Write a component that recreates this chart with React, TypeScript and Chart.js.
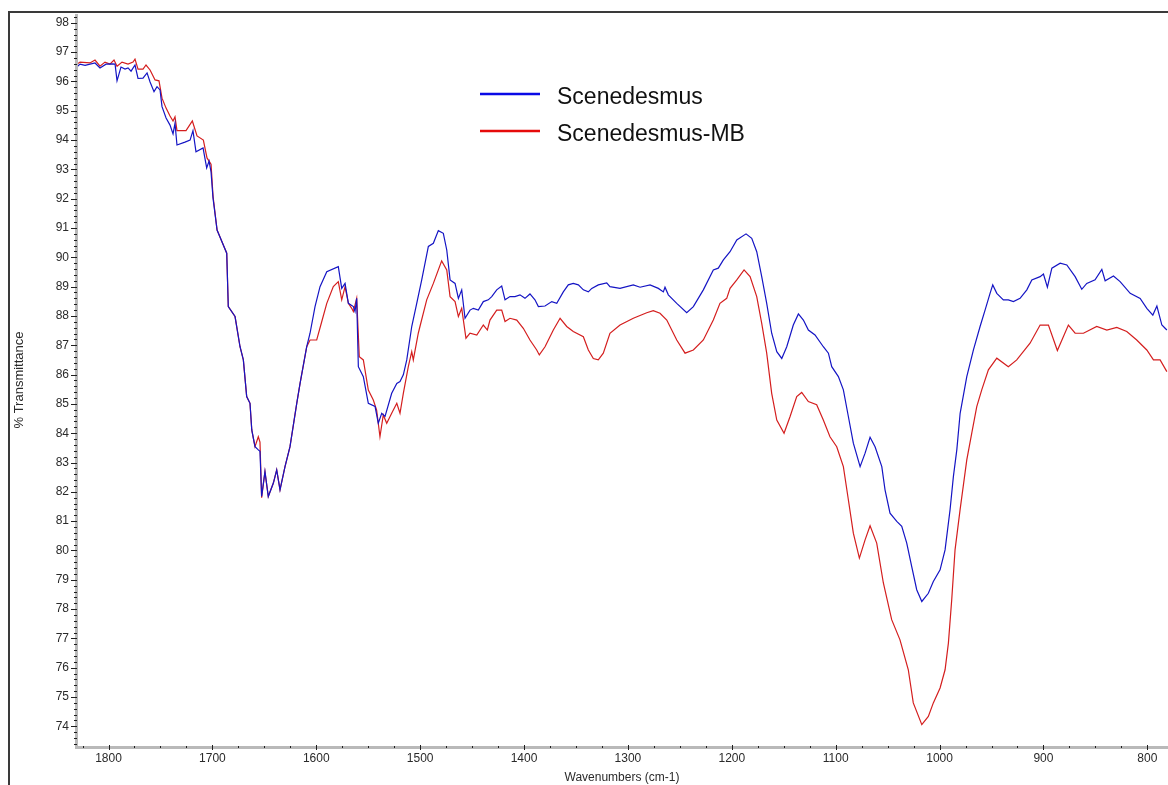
import React, { useEffect, useRef } from "react";
import { Chart, registerables } from "chart.js";

Chart.register(...registerables);

// FTIR spectra: wavenumber (cm-1) and % transmittance for each sample
const BLUE_WN = [
  1830.3, 1827.4, 1822.6, 1813.0, 1808.2, 1802.4, 1796.6, 1793.7, 1791.8, 1788.0,
  1784.1, 1781.2, 1778.3, 1774.5, 1771.6, 1766.8, 1762.9, 1760.0, 1756.2, 1753.3,
  1750.4, 1748.5, 1744.6, 1740.8, 1737.9, 1736.0, 1734.1, 1726.4, 1721.5, 1718.7,
  1715.8, 1709.0, 1705.5, 1703.2, 1701.3, 1699.4, 1695.5, 1692.7, 1686.2, 1684.7,
  1678.2, 1673.4, 1670.2, 1667.0, 1663.8, 1662.1, 1659.0, 1655.8, 1654.2, 1652.6,
  1649.4, 1646.2, 1641.3, 1638.1, 1634.9, 1630.1, 1625.3, 1618.8, 1615.6, 1609.2,
  1606.0, 1601.2, 1596.4, 1589.9, 1578.8, 1575.5, 1572.3, 1569.1, 1564.3, 1562.7,
  1561.1, 1559.5, 1554.7, 1549.9, 1543.4, 1540.3, 1537.0, 1533.8, 1527.4, 1522.5,
  1519.4, 1516.2, 1512.9, 1508.1, 1503.3, 1498.5, 1492.1, 1487.3, 1482.5, 1477.7,
  1474.4, 1471.2, 1466.4, 1463.2, 1460.0, 1456.8, 1452.0, 1448.8, 1444.0, 1439.2,
  1434.4, 1431.1, 1426.3, 1421.5, 1418.3, 1413.5, 1408.7, 1403.9, 1399.1, 1394.3,
  1389.5, 1386.2, 1379.8, 1373.3, 1368.5, 1362.2, 1357.4, 1352.6, 1347.7, 1342.9,
  1338.1, 1334.8, 1328.5, 1320.4, 1317.3, 1307.6, 1294.8, 1288.3, 1278.7, 1270.7,
  1265.9, 1264.3, 1261.1, 1253.0, 1243.4, 1237.0, 1227.4, 1217.8, 1213.0, 1208.1,
  1201.7, 1195.2, 1186.3, 1180.8, 1176.0, 1171.2, 1166.4, 1161.6, 1156.7, 1151.9,
  1147.1, 1140.8, 1135.9, 1131.1, 1126.3, 1119.9, 1111.9, 1107.0, 1103.8, 1097.4,
  1092.6, 1087.8, 1083.0, 1076.5, 1071.7, 1066.9, 1062.1, 1055.6, 1052.5, 1047.7,
  1041.2, 1036.4, 1031.6, 1026.8, 1022.0, 1017.1, 1010.8, 1006.0, 999.5, 994.7,
  989.9, 986.7, 983.4, 980.2, 973.8, 967.4, 961.0, 956.2, 951.4, 948.8,
  944.9, 938.6, 933.8, 928.9, 922.5, 916.0, 911.2, 903.2, 900.0, 896.2,
  891.9, 883.9, 877.5, 869.5, 863.1, 858.3, 850.3, 843.8, 840.6, 832.6,
  826.2, 816.5, 806.9, 800.5, 794.7, 790.8, 786.0, 781.2,
];
const BLUE_T = [
  96.50, 96.59, 96.55, 96.63, 96.46, 96.59, 96.60, 96.59, 96.02, 96.49,
  96.42, 96.46, 96.35, 96.56, 96.10, 96.11, 96.29, 95.98, 95.65, 95.82,
  95.71, 95.14, 94.75, 94.51, 94.21, 94.57, 93.83, 93.93, 94.00, 94.32,
  93.60, 93.73, 93.05, 93.28, 92.91, 92.02, 90.93, 90.69, 90.14, 88.32,
  87.98, 86.95, 86.50, 85.25, 85.02, 84.11, 83.54, 83.43, 83.38, 81.84,
  82.69, 81.84, 82.30, 82.75, 82.07, 82.86, 83.54, 85.02, 85.70, 86.95,
  87.41, 88.32, 89.00, 89.51, 89.68, 88.94, 89.11, 88.43, 88.32, 88.15,
  88.60, 86.27, 85.93, 85.02, 84.91, 84.34, 84.68, 84.57, 85.36, 85.70,
  85.76, 85.99, 86.50, 87.64, 88.43, 89.23, 90.37, 90.48, 90.91, 90.82,
  90.25, 89.23, 89.11, 88.60, 88.89, 87.92, 88.20, 88.26, 88.20, 88.49,
  88.55, 88.66, 88.89, 89.02, 88.55, 88.66, 88.66, 88.72, 88.60, 88.75,
  88.55, 88.32, 88.34, 88.49, 88.43, 88.82, 89.06, 89.11, 89.06, 88.89,
  88.82, 88.94, 89.06, 89.13, 89.00, 88.94, 89.06, 88.98, 89.06, 88.94,
  88.82, 88.98, 88.72, 88.43, 88.11, 88.32, 88.89, 89.57, 89.63, 89.91,
  90.19, 90.59, 90.80, 90.65, 90.19, 89.34, 88.43, 87.41, 86.78, 86.55,
  86.95, 87.69, 88.07, 87.86, 87.52, 87.35, 86.95, 86.73, 86.27, 85.93,
  85.48, 84.57, 83.66, 82.86, 83.32, 83.86, 83.54, 82.86, 82.07, 81.27,
  80.99, 80.82, 80.25, 79.45, 78.66, 78.26, 78.54, 78.94, 79.34, 80.02,
  81.39, 82.52, 83.43, 84.68, 85.93, 86.84, 87.64, 88.20, 88.77, 89.06,
  88.77, 88.55, 88.55, 88.49, 88.60, 88.89, 89.23, 89.34, 89.43, 88.98,
  89.63, 89.80, 89.74, 89.34, 88.91, 89.11, 89.23, 89.59, 89.20, 89.36,
  89.17, 88.77, 88.60, 88.26, 88.03, 88.34, 87.69, 87.52,
];

const RED_WN = [
  1830.3, 1827.4, 1817.8, 1813.0, 1808.2, 1803.4, 1798.6, 1794.7, 1791.8, 1787.0,
  1781.2, 1776.4, 1774.5, 1771.6, 1766.8, 1763.9, 1760.0, 1755.2, 1751.4, 1748.5,
  1744.6, 1740.8, 1737.9, 1736.0, 1734.1, 1725.4, 1719.3, 1714.8, 1708.7, 1705.2,
  1703.2, 1701.3, 1699.4, 1695.5, 1692.7, 1686.2, 1684.7, 1678.2, 1673.4, 1670.2,
  1667.0, 1663.8, 1662.1, 1659.0, 1655.8, 1654.2, 1652.6, 1649.4, 1646.2, 1641.3,
  1638.1, 1634.9, 1630.1, 1625.3, 1618.8, 1615.6, 1609.2, 1606.0, 1599.6, 1594.7,
  1589.9, 1583.6, 1578.8, 1575.5, 1572.3, 1569.1, 1565.9, 1564.3, 1561.1, 1558.6,
  1554.7, 1549.9, 1545.1, 1541.9, 1538.7, 1535.5, 1532.2, 1527.4, 1522.5, 1519.4,
  1516.2, 1511.4, 1508.1, 1506.6, 1501.8, 1500.2, 1493.7, 1487.3, 1479.3, 1474.4,
  1471.2, 1466.4, 1463.2, 1460.0, 1455.9, 1452.0, 1445.5, 1439.2, 1435.3, 1432.8,
  1426.3, 1421.5, 1418.3, 1413.5, 1407.0, 1400.7, 1394.3, 1387.8, 1385.3, 1379.8,
  1371.8, 1365.3, 1358.9, 1352.6, 1342.9, 1338.1, 1333.3, 1328.5, 1323.7, 1317.3,
  1307.6, 1294.8, 1281.9, 1275.6, 1269.1, 1262.6, 1253.0, 1245.0, 1237.0, 1227.4,
  1217.8, 1211.4, 1204.9, 1201.7, 1195.2, 1188.2, 1182.4, 1176.0, 1171.2, 1166.4,
  1161.6, 1156.7, 1149.7, 1143.9, 1137.5, 1132.7, 1126.3, 1118.3, 1111.9, 1105.5,
  1099.0, 1092.6, 1087.8, 1083.0, 1077.2, 1071.7, 1066.9, 1060.5, 1054.1, 1046.1,
  1038.1, 1030.1, 1025.3, 1017.1, 1010.8, 1006.0, 999.5, 994.7, 991.5, 988.3,
  985.1, 980.2, 973.8, 969.0, 964.2, 959.4, 953.0, 944.9, 933.8, 925.7,
  912.9, 903.2, 895.2, 886.6, 876.0, 869.5, 861.5, 848.7, 839.0, 829.4,
  819.8, 810.2, 800.5, 794.1, 787.7, 781.2,
];
const RED_T = [
  96.59, 96.66, 96.63, 96.73, 96.52, 96.66, 96.59, 96.73, 96.52, 96.66,
  96.59, 96.66, 96.76, 96.42, 96.42, 96.56, 96.39, 96.05, 96.02, 95.43,
  95.09, 94.82, 94.65, 94.79, 94.32, 94.32, 94.65, 94.14, 94.00, 93.39,
  93.28, 93.18, 92.09, 90.93, 90.69, 90.14, 88.32, 87.98, 86.95, 86.50,
  85.25, 85.02, 84.11, 83.54, 83.88, 83.70, 81.80, 82.69, 81.84, 82.30,
  82.75, 82.07, 82.86, 83.54, 85.02, 85.70, 86.95, 87.18, 87.18, 87.81,
  88.43, 89.00, 89.17, 88.55, 89.00, 88.43, 88.26, 88.15, 88.60, 86.61,
  86.50, 85.47, 85.13, 84.79, 83.88, 84.62, 84.34, 84.68, 85.02, 84.68,
  85.36, 86.27, 86.78, 86.50, 87.41, 87.64, 88.55, 89.11, 89.88, 89.57,
  88.66, 88.49, 87.98, 88.26, 87.24, 87.41, 87.35, 87.69, 87.52, 87.86,
  88.20, 88.20, 87.81, 87.92, 87.86, 87.58, 87.18, 86.84, 86.67, 86.95,
  87.52, 87.92, 87.64, 87.47, 87.29, 86.84, 86.55, 86.50, 86.73, 87.41,
  87.69, 87.92, 88.11, 88.18, 88.09, 87.86, 87.18, 86.73, 86.84, 87.18,
  87.86, 88.43, 88.60, 88.94, 89.23, 89.57, 89.34, 88.66, 87.75, 86.73,
  85.36, 84.45, 84.00, 84.57, 85.25, 85.39, 85.08, 84.97, 84.45, 83.88,
  83.54, 82.86, 81.73, 80.59, 79.74, 80.36, 80.84, 80.25, 78.89, 77.64,
  76.95, 75.93, 74.80, 74.06, 74.34, 74.80, 75.31, 75.93, 76.84, 78.32,
  80.02, 81.40, 83.09, 84.00, 84.91, 85.48, 86.16, 86.56, 86.27, 86.50,
  87.07, 87.69, 87.69, 86.82, 87.69, 87.41, 87.41, 87.64, 87.52, 87.61,
  87.47, 87.18, 86.84, 86.50, 86.50, 86.10,
];

const SERIES_NAMES = ["Scenedesmus", "Scenedesmus-MB"];
const LINE_COLORS = ["#1414c4", "#d41e1e"];
const LEGEND_COLORS = ["#0a0ae6", "#e60a0a"];

const X_TICKS = [1800, 1700, 1600, 1500, 1400, 1300, 1200, 1100, 1000, 900, 800];
const Y_TICKS = [
  74, 75, 76, 77, 78, 79, 80, 81, 82, 83, 84, 85, 86,
  87, 88, 89, 90, 91, 92, 93, 94, 95, 96, 97, 98,
];
const X_RANGE = [780.1, 1831.3];
const Y_RANGE = [73.33, 98.3];

const FONT = "'Liberation Sans', Arial, Helvetica, sans-serif";
const TEXT_COLOR = "#2a2a2a";

// Instrument-style frame, ruler axes with minor ticks, and the in-plot legend
const spectrumDecor = {
  id: "spectrumDecor",
  beforeDraw(chart: any) {
    const ctx = chart.ctx;
    ctx.save();
    ctx.strokeStyle = "#3a3a3a";
    ctx.lineWidth = 2;
    ctx.beginPath();
    ctx.moveTo(9, chart.height);
    ctx.lineTo(9, 12);
    ctx.lineTo(chart.width, 12);
    ctx.stroke();
    ctx.restore();
  },
  afterDatasetsDraw(chart: any) {
    const ctx = chart.ctx;
    const { left, right, top, bottom } = chart.chartArea;
    const xs = chart.scales.x;
    const ys = chart.scales.y;
    ctx.save();
    // axis bars
    ctx.fillStyle = "#b9b9b9";
    ctx.fillRect(left - 1, top, 3, bottom - top + 2);
    ctx.fillRect(left - 1, bottom, right - left + 1, 3);
    ctx.fillStyle = "#1e1e1e";
    // y minor / major ticks
    for (let i = Math.ceil(Y_RANGE[0] * 5); i <= Math.floor(Y_RANGE[1] * 5); i++) {
      const py = Math.round(ys.getPixelForValue(i / 5));
      const major = i % 5 === 0;
      if (major) ctx.fillRect(left - 5, py, 6, 1);
      else ctx.fillRect(left - 2, py, 3, 1);
    }
    // x minor / major ticks
    for (let k = Math.ceil(X_RANGE[0] / 25); k <= Math.floor(X_RANGE[1] / 25); k++) {
      const px = Math.round(xs.getPixelForValue(k * 25));
      const major = k % 4 === 0;
      if (major) ctx.fillRect(px, bottom - 1, 1, 5);
      else ctx.fillRect(px, bottom, 1, 2);
    }
    ctx.restore();
  },
  afterDraw(chart: any) {
    const ctx = chart.ctx;
    ctx.save();
    const rows = [94, 131];
    SERIES_NAMES.forEach((name, i) => {
      const y = rows[i];
      ctx.strokeStyle = LEGEND_COLORS[i];
      ctx.lineWidth = 2.5;
      ctx.beginPath();
      ctx.moveTo(480, y);
      ctx.lineTo(540, y);
      ctx.stroke();
      ctx.fillStyle = "#111";
      ctx.font = `23px ${FONT}`;
      ctx.textAlign = "left";
      ctx.textBaseline = "alphabetic";
      ctx.fillText(name, 557, y + 10);
    });
    ctx.restore();
  },
};

export default function App() {
  const canvasRef = useRef<HTMLCanvasElement | null>(null);

  useEffect(() => {
    const canvas = canvasRef.current;
    if (!canvas) return;
    const toPoints = (wn: number[], t: number[]) => wn.map((x, i) => ({ x, y: t[i] }));

    const chart = new Chart(canvas, {
      type: "line",
      data: {
        datasets: [
          {
            label: SERIES_NAMES[0],
            data: toPoints(BLUE_WN, BLUE_T),
            borderColor: LINE_COLORS[0],
            borderWidth: 1.2,
            pointRadius: 0,
            tension: 0,
            fill: false,
          },
          {
            label: SERIES_NAMES[1],
            data: toPoints(RED_WN, RED_T),
            borderColor: LINE_COLORS[1],
            borderWidth: 1.2,
            pointRadius: 0,
            tension: 0,
            fill: false,
          },
        ],
      },
      options: {
        responsive: false,
        animation: false,
        devicePixelRatio: 1,
        layout: { padding: { top: 14, left: 0, right: 0, bottom: 0 } },
        plugins: {
          legend: { display: false },
          tooltip: { enabled: false },
        },
        scales: {
          x: {
            type: "linear",
            reverse: true,
            min: X_RANGE[0],
            max: X_RANGE[1],
            afterBuildTicks: (s: any) => {
              s.ticks = X_TICKS.map((value) => ({ value }));
            },
            afterFit: (s: any) => {
              s.height = 39;
              s.paddingLeft = 0;
              s.paddingRight = 0;
            },
            grid: { display: false, drawTicks: false },
            border: { display: false },
            ticks: {
              padding: 5,
              autoSkip: false,
              maxRotation: 0,
              color: TEXT_COLOR,
              font: { family: FONT, size: 12 },
              callback: (v: any) => String(v),
            },
            title: {
              display: true,
              text: "Wavenumbers (cm-1)",
              color: TEXT_COLOR,
              font: { family: FONT, size: 12 },
              padding: { top: 0, bottom: 0 },
            },
          },
          y: {
            type: "linear",
            min: Y_RANGE[0],
            max: Y_RANGE[1],
            afterBuildTicks: (s: any) => {
              s.ticks = Y_TICKS.map((value) => ({ value }));
            },
            afterFit: (s: any) => {
              s.width = 76;
              s.paddingTop = 0;
              s.paddingBottom = 0;
            },
            grid: { display: false, drawTicks: false },
            border: { display: false },
            ticks: {
              padding: 7,
              color: TEXT_COLOR,
              font: { family: FONT, size: 12 },
              callback: (v: any) => String(v),
            },
            title: {
              display: true,
              text: "% Transmittance",
              color: TEXT_COLOR,
              font: { family: FONT, size: 13 },
              padding: { top: 12, bottom: 0 },
            },
          },
        },
      },
      plugins: [spectrumDecor],
    });

    return () => chart.destroy();
  }, []);

  return (
    <div style={{ position: "absolute", left: 0, top: 0, width: 1168, height: 785, background: "#fff" }}>
      <canvas ref={canvasRef} width={1168} height={785} style={{ display: "block" }} />
    </div>
  );
}
